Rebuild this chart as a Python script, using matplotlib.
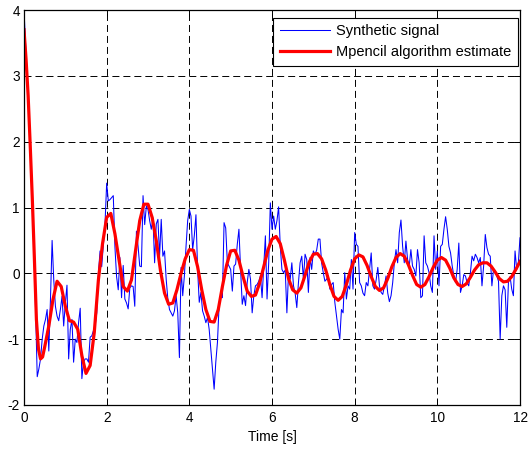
"""Synthetic signal against its matrix-pencil estimate."""
import matplotlib
matplotlib.use("Agg")
import matplotlib.pyplot as plt
import numpy as np

plt.rcParams["font.family"] = ["Liberation Sans", "DejaVu Sans"]
plt.rcParams["axes.unicode_minus"] = False

# noisy synthetic signal, sampled every 0.04 s from 0 to 12 s (one row per second)
signal = [
    4.00, 3.45, 2.95, 2.35, 1.75, 1.05, 0.35, -0.55, -1.57, -1.45,
    -1.30, -1.00, -0.80, -0.70, -0.55, -1.18, -0.40, 0.50, -0.10, -0.50,
    -0.65, -0.72, -0.55, -0.35, -0.80,
    -0.45, -0.18, -1.30, -0.85, -0.70, -1.35, -1.00, -1.05, -0.75, -0.53,
    -1.60, -1.35, -1.30, -1.30, -1.35, -0.97, -0.95, -0.87, -0.80, -0.60,
    0.00, 0.34, 0.10, 0.44, 0.75,
    1.37, 1.10, 1.12, 1.15, 1.18, 0.40, -0.05, -0.25, 0.24, -0.37,
    0.12, -0.39, -0.45, -0.54, -0.22, -0.19, -0.20, -0.50, 0.64, 0.41,
    0.11, 0.10, 1.18, 0.74, 1.02,
    0.97, 0.80, 0.67, 0.84, 0.16, 0.75, 0.82, 0.26, 0.82, 0.26,
    0.34, -0.09, -0.39, -0.55, -0.60, -0.65, -0.57, -0.34, -0.60, -1.28,
    0.09, -0.34, -0.04, 0.41, 0.80,
    0.97, 0.87, 0.36, 0.57, 0.89, 0.06, -0.44, -0.29, -0.57, -0.65,
    -0.75, -0.67, -0.85, -1.15, -1.45, -1.76, -1.35, -1.05, -0.49, -0.32,
    -0.37, 0.77, 0.69, 0.16, 0.11,
    0.06, -0.27, 0.11, 0.14, 0.44, 0.67, 0.06, -0.47, -0.34, -0.49,
    -0.14, 0.06, -0.09, -0.60, -0.34, -0.19, -0.17, -0.12, -0.04, -0.37,
    0.11, 0.57, -0.39, 0.16, 1.07,
    0.67, 0.87, 0.67, 0.80, 1.01, 0.41, 0.06, 0.01, 0.05, -0.60,
    0.01, -0.09, 0.16, -0.19, -0.30, -0.52, -0.14, 0.16, 0.26, -0.09,
    0.29, 0.21, -0.29, 0.24, 0.06,
    0.34, 0.29, 0.35, 0.52, 0.52, 0.16, 0.01, -0.12, -0.09, -0.04,
    -0.24, -0.17, -0.14, -0.44, -0.65, -0.85, -1.00, -0.55, -0.60, 0.01,
    -0.39, -0.19, -0.24, 0.21, -0.24,
    0.62, 0.44, 0.41, -0.14, -0.19, -0.30, -0.34, -0.14, -0.19, 0.06,
    0.31, -0.19, -0.24, -0.10, 0.09, -0.19, -0.29, -0.32, -0.19, -0.04,
    -0.30, -0.43, -0.34, -0.14, 0.16,
    0.36, 0.16, 0.62, 0.81, 0.41, 0.16, 0.49, 0.21, 0.11, 0.36,
    0.11, 0.06, -0.04, 0.36, 0.16, -0.37, -0.34, 0.57, 0.16, 0.11,
    0.01, -0.19, -0.29, 0.57, 0.06,
    0.34, -0.19, 0.41, 0.44, 0.67, 0.86, 0.67, 0.41, 0.31, 0.11,
    -0.04, -0.14, 0.06, 0.46, -0.29, -0.19, -0.02, -0.04, -0.14, -0.19,
    0.01, 0.26, 0.19, 0.29, 0.24,
    0.16, 0.24, -0.19, 0.11, 0.59, 0.39, 0.29, 0.26, -0.19, 0.06,
    0.04, -0.04, -0.12, -1.00, -0.34, -0.19, -0.25, -0.82, -0.14, -0.05,
    -0.24, -0.34, 0.34, 0.06, 0.16,
    0.54,
]

# matrix-pencil estimate: 0.05 s steps over the first half second, then 0.1 s
estimate_t = np.concatenate([np.linspace(0, 0.45, 10), np.linspace(0.5, 12, 116)])
estimate = [
    3.70, 3.25, 2.70, 1.95, 1.15, 0.25, -0.70, -1.15, -1.30, -1.27,
    -1.12, -0.80, -0.40, -0.12, -0.20,
    -0.50, -0.72, -0.74, -0.85, -1.25, -1.52, -1.40, -0.90, -0.10, 0.45,
    0.85, 0.91, 0.60, 0.20, -0.20, -0.27, -0.10, 0.35, 0.80, 1.05,
    1.05, 0.85, 0.50, 0.05, -0.30, -0.47, -0.45, -0.25, 0.00, 0.22,
    0.36, 0.35, 0.10, -0.25, -0.55, -0.73, -0.74, -0.55, -0.20, 0.12,
    0.34, 0.35, 0.20, -0.05, -0.27, -0.35, -0.33, -0.15, 0.10, 0.35,
    0.52, 0.56, 0.45, 0.20, -0.08, -0.25, -0.30, -0.22, -0.03, 0.17,
    0.29, 0.30, 0.22, 0.05, -0.17, -0.35, -0.41, -0.35, -0.17, 0.05,
    0.22, 0.28, 0.25, 0.12, -0.05, -0.20, -0.26, -0.22, -0.08, 0.10,
    0.24, 0.30, 0.26, 0.13, -0.03, -0.17, -0.21, -0.17, -0.05, 0.09,
    0.20, 0.24, 0.20, 0.08, -0.07, -0.17, -0.20, -0.16, -0.06, 0.05,
    0.13, 0.16, 0.16, 0.11, 0.02, -0.08, -0.13, -0.12, -0.05, 0.06,
    0.18,
]

x_ticks = [0, 2, 4, 6, 8, 10, 12]
y_ticks = [-2, -1, 0, 1, 2, 3, 4]

signal_t = np.linspace(0, 12, len(signal))

fig = plt.figure(figsize=(5.30, 4.49), dpi=100)
ax = fig.add_axes([24 / 530, 1 - 405 / 449, 496 / 530, 395 / 449])

ax.plot(signal_t, signal, color="#0000ff", lw=0.75, label="Synthetic signal")
ax.plot(estimate_t, estimate, color="#ff0000", lw=2.3,
        label="Mpencil algorithm estimate")

ax.set_xlim(0, 12)
ax.set_ylim(-2, 4)
ax.set_xticks(x_ticks)
ax.set_yticks(y_ticks)
ax.grid(True, color="k", lw=0.7, linestyle=(0, (7.2, 4.1)))
ax.tick_params(direction="in", length=4, width=0.7, top=True, right=True,
               labelsize=9.8)
ax.tick_params(axis="x", pad=4)
ax.tick_params(axis="y", pad=3)
for side in ax.spines.values():
    side.set_linewidth(0.9)
ax.set_xlabel("Time [s]", fontsize=10, labelpad=4)

leg = ax.legend(loc="upper right", bbox_to_anchor=(0.996, 0.98),
                borderaxespad=0, fancybox=False, framealpha=1,
                edgecolor="k", fontsize=10.5, handlelength=3.4,
                handletextpad=0.45, labelspacing=0.45, borderpad=0.45)
leg.get_frame().set_linewidth(0.8)

fig.savefig("out.png", dpi=100, facecolor="white")
